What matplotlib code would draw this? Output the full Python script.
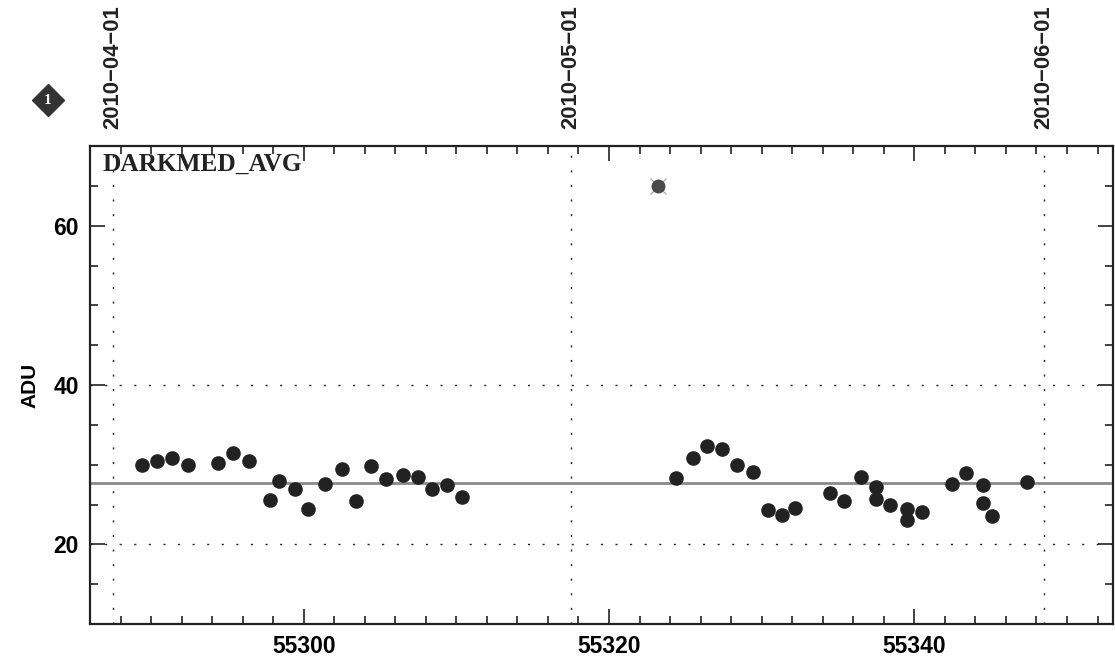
"""Recreate the DARKMED_AVG trend plot (ADU vs MJD)."""

import matplotlib
matplotlib.use("Agg")
import matplotlib.pyplot as plt
from matplotlib.lines import Line2D
from matplotlib.ticker import MultipleLocator

# data
MJD = [
    55289.4, 55290.4, 55291.4, 55292.4, 55294.4, 55295.4, 55296.4, 55297.8,
    55298.4, 55299.4, 55300.3, 55301.4, 55302.5, 55303.4, 55304.4, 55305.4,
    55306.5, 55307.5, 55308.4, 55309.4, 55310.4,
    55324.4, 55325.5, 55326.4, 55327.4, 55328.4, 55329.4, 55330.4, 55331.3,
    55332.2, 55334.5, 55335.4, 55336.5, 55337.5, 55337.5, 55338.4, 55339.5,
    55339.5, 55340.5, 55342.5, 55343.4, 55344.5, 55344.5, 55345.1, 55347.4,
]
ADU = [
    29.9, 30.5, 30.8, 29.9, 30.2, 31.5, 30.4, 25.6,
    27.9, 27.0, 24.4, 27.6, 29.5, 25.4, 29.8, 28.2,
    28.7, 28.4, 27.0, 27.4, 25.9,
    28.3, 30.8, 32.4, 32.0, 30.0, 29.1, 24.3, 23.7,
    24.5, 26.5, 25.4, 28.4, 27.2, 25.7, 24.9, 24.4,
    23.0, 24.0, 27.6, 28.9, 27.4, 25.2, 23.6, 27.8,
]
OUTLIER_MJD = [55323.2]
OUTLIER_ADU = [65.0]
MEAN_ADU = 27.65
THRESHOLDS = [20, 40]
DATE_MJD = [55287.5, 55317.5, 55348.5]
DATE_LABELS = ["2010\u221204\u221201", "2010\u221205\u221201", "2010\u221206\u221201"]

DARK = "#222222"
SANS = ["Liberation Sans", "DejaVu Sans"]

fig = plt.figure(figsize=(11.15, 6.61), dpi=100)
ax = fig.add_axes([0.0807, 0.056, 0.9173, 0.723])
ax.set_xlim(55286, 55353)
ax.set_ylim(10, 70)

# reference lines
dots = (0, (1.5, 9))
for x in DATE_MJD:
    ax.axvline(x, color=DARK, lw=1.0, ls=dots, zorder=1)
for y in THRESHOLDS:
    ax.axhline(y, color=DARK, lw=1.0, ls=dots, zorder=1)
ax.axhline(MEAN_ADU, color="#8a8a8a", lw=2.0, zorder=2)

ax.plot(MJD, ADU, "o", color=DARK, ms=9.5, mec=DARK, zorder=3)
ax.plot(OUTLIER_MJD, OUTLIER_ADU, "x", color="#b0b0b0", ms=11, mew=1, zorder=3)
ax.plot(OUTLIER_MJD, OUTLIER_ADU, "o", color="#4a4a4a", ms=9, zorder=4)

ax.xaxis.set_major_locator(MultipleLocator(20))
ax.xaxis.set_minor_locator(MultipleLocator(2))
ax.yaxis.set_major_locator(MultipleLocator(20))
ax.yaxis.set_minor_locator(MultipleLocator(5))
ax.tick_params(which="both", direction="in", top=True, right=True, color=DARK)
ax.tick_params(which="major", length=11, width=1.2)
ax.tick_params(which="minor", length=6, width=1.2)
ax.tick_params(axis="x", pad=8)
ax.tick_params(axis="y", pad=8)
for lab in ax.get_xticklabels() + ax.get_yticklabels():
    lab.set_fontfamily(SANS)
    lab.set_fontweight("bold")
    lab.set_fontsize(16.5)
for sp in ax.spines.values():
    sp.set_linewidth(1.6)
    sp.set_color(DARK)

ax.set_ylabel("ADU", family=SANS, fontweight="bold", fontsize=15, labelpad=10)

ax.text(0.012, 0.985, "DARKMED_AVG", transform=ax.transAxes, ha="left", va="top",
        family=["Liberation Serif", "DejaVu Serif"], fontweight="bold", fontsize=18.3, color=DARK)

# date labels above the frame
for x, lab in zip(DATE_MJD, DATE_LABELS):
    ax.annotate(lab, xy=(x, 1.0), xycoords=("data", "axes fraction"),
                xytext=(0, 17), textcoords="offset pixels", rotation=90,
                ha="center", va="bottom", family=SANS, fontweight="bold",
                fontsize=15.8, color=DARK)

# plot number badge
fig.add_artist(Line2D([48 / 1115], [1 - 100 / 661], marker="D", ms=16,
                      color="#333333", transform=fig.transFigure))
fig.text(48 / 1115, 1 - 100 / 661, "1", color="white", ha="center", va="center",
         family=["Liberation Serif", "DejaVu Serif"], fontweight="bold", fontsize=11)

fig.savefig("out.png", dpi=100)
